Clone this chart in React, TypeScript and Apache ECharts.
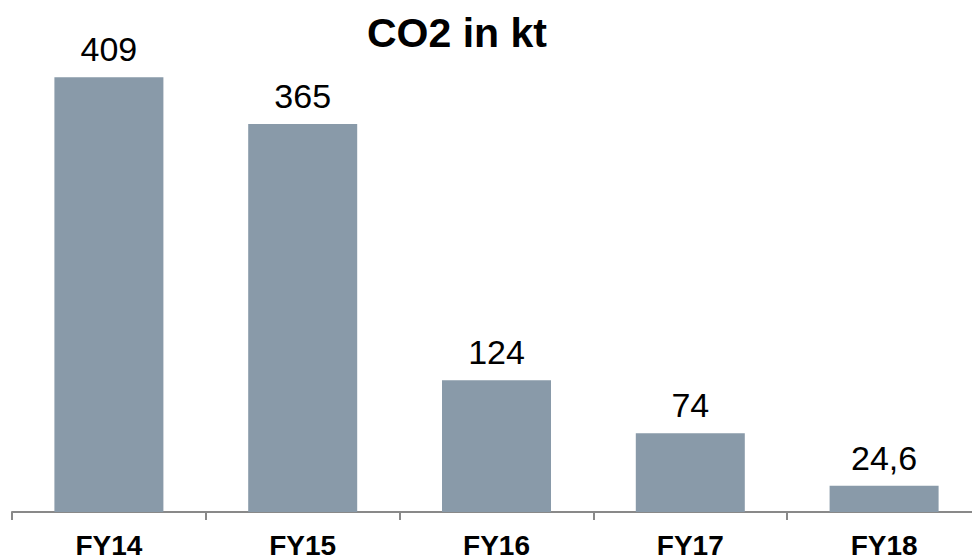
import React, { useEffect, useRef } from "react";
import * as echarts from "echarts";

const categories = ["FY14", "FY15", "FY16", "FY17", "FY18"];
const values = [409, 365, 124, 74, 24.6];
const titleText = "CO2 in kt";

export default function App() {
  const ref = useRef<HTMLDivElement>(null);
  useEffect(() => {
    const chart = echarts.init(ref.current!, null, { renderer: "svg" });
    chart.setOption({
      animation: false,
      textStyle: { fontFamily: "Liberation Sans, Arial, sans-serif" },
      title: {
        text: titleText,
        left: 362,
        top: 7,
        textStyle: { fontSize: 41, fontWeight: "bold", color: "#000", fontFamily: "Liberation Sans, Arial, sans-serif" },
      },
      grid: { left: 12, right: 9, top: 40, bottom: 48, containLabel: false },
      xAxis: {
        type: "category",
        data: categories,
        axisLine: { lineStyle: { color: "#898989", width: 2 } },
        axisTick: { show: true, length: 8, lineStyle: { color: "#898989", width: 2 }, alignWithLabel: false },
        axisLabel: {
          margin: 19,
          fontSize: 28,
          fontWeight: "bold",
          color: "#000",
          fontFamily: "Liberation Sans, Arial, sans-serif",
        },
      },
      yAxis: { type: "value", min: 0, max: 444, show: false, splitLine: { show: false } },
      series: [
        {
          type: "bar",
          data: values,
          barWidth: 109,
          itemStyle: { color: "#899aa9" },
          label: {
            show: true,
            position: "top",
            distance: 11,
            fontSize: 34,
            color: "#000",
            fontFamily: "Liberation Sans, Arial, sans-serif",
            formatter: (p: any) => String(p.value).replace(".", ","),
          },
        },
      ],
    });
    return () => chart.dispose();
  }, []);
  return (
    <div style={{ width: 972, height: 560, position: "absolute", left: 0, top: 0, overflow: "hidden" }}>
      <div ref={ref} style={{ width: 990, height: 560 }} />
    </div>
  );
}
